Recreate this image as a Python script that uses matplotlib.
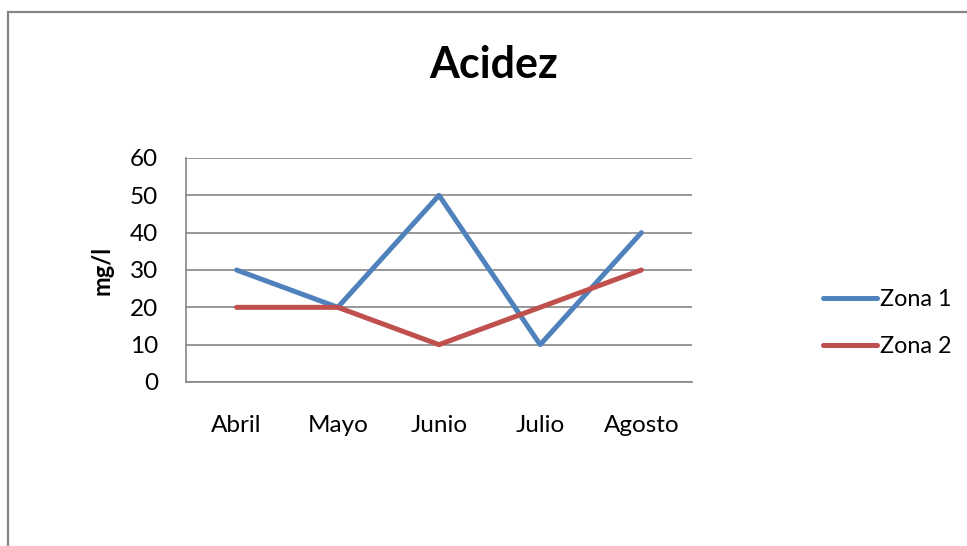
import matplotlib
matplotlib.use("Agg")
import matplotlib.pyplot as plt
from matplotlib.lines import Line2D
from matplotlib.patches import Rectangle

months = ["Abril", "Mayo", "Junio", "Julio", "Agosto"]
zona1 = [30, 20, 50, 10, 40]
zona2 = [20, 20, 10, 20, 30]
series_names = ["Zona 1", "Zona 2"]
yticks = [0, 10, 20, 30, 40, 50, 60]

plt.rcParams["font.family"] = ["Lato", "DejaVu Sans"]

W, H = 967, 546
fig = plt.figure(figsize=(W / 100, H / 100), dpi=100)

# chart border
fig.patches.append(Rectangle((8 / W, -0.1), 1.2, (H - 12) / H + 0.1,
                             transform=fig.transFigure, fill=False,
                             edgecolor="#868686", linewidth=1.6))

left, right, top, bottom = 186, 692, 158, 382
ax = fig.add_axes([left / W, 1 - bottom / H, (right - left) / W, (bottom - top) / H])

x = range(len(months))
ax.plot(x, zona1, color="#4F81BD", linewidth=3.6, solid_capstyle="round",
        solid_joinstyle="round", label=series_names[0])
ax.plot(x, zona2, color="#C0504D", linewidth=3.6, solid_capstyle="round",
        solid_joinstyle="round", label=series_names[1])

ax.set_xlim(-0.5, len(months) - 0.5)
ax.set_ylim(0, 60)
ax.set_yticks(yticks)
ax.set_xticks(list(x))
ax.set_xticklabels(months)
ax.yaxis.grid(True, color="#868686", linewidth=1.2)
ax.set_axisbelow(True)
for s in ["top", "right"]:
    ax.spines[s].set_visible(False)
for s in ["left", "bottom"]:
    ax.spines[s].set_color("#868686")
    ax.spines[s].set_linewidth(1.2)
ax.tick_params(axis="both", length=0, labelsize=17.5, colors="black")
ax.tick_params(axis="y", pad=20)
ax.tick_params(axis="x", pad=24)

ax.set_ylabel("mg/l", fontsize=17, fontweight="bold", labelpad=12)

fig.text(494 / W, 1 - 65 / H, "Acidez", ha="center", va="center",
         fontsize=31, fontweight="bold")

handles = [Line2D([], [], color="#4F81BD", linewidth=3.6, solid_capstyle="round"),
           Line2D([], [], color="#C0504D", linewidth=3.6, solid_capstyle="round")]
fig.legend(handles, series_names, loc="center left",
           bbox_to_anchor=(802 / W, 1 - 323 / H), frameon=False,
           fontsize=16.8, handlelength=2.3, handletextpad=0.15, labelspacing=1.1)

fig.savefig("out.png", dpi=100)
